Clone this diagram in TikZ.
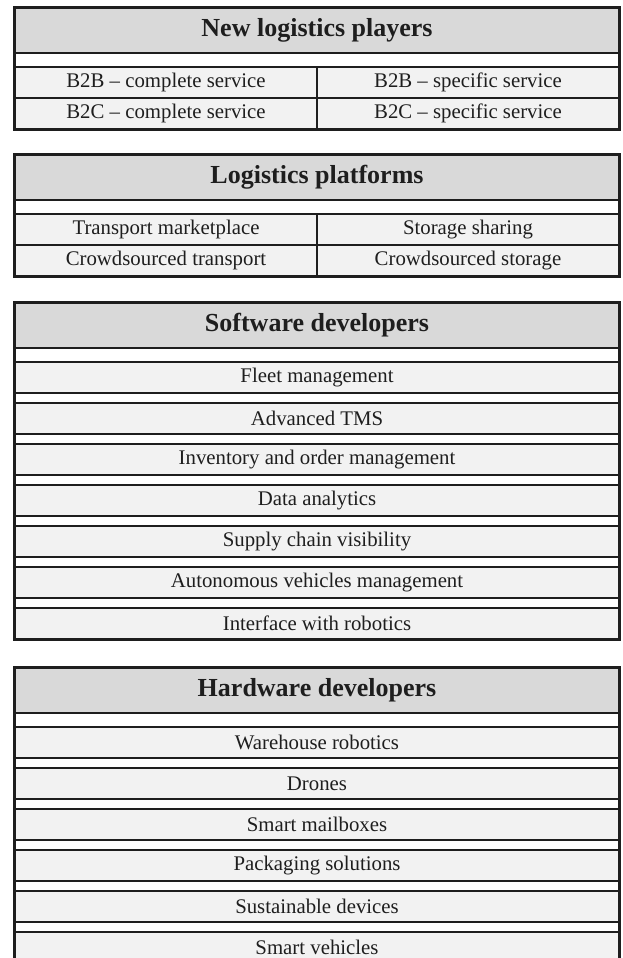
\documentclass[tikz,border=0pt]{standalone}
\usepackage{fontspec}
\setmainfont{Liberation Serif}

\definecolor{headgray}{HTML}{D9D9D9}
\definecolor{rowgray}{HTML}{F2F2F2}
\definecolor{inkgray}{HTML}{1E1E1E}

\tikzset{
	headcell/.style={draw=inkgray, line width=1.6pt, fill=headgray, minimum width=604pt, minimum height=45pt, inner sep=0pt, text=inkgray, font=\fontsize{26}{30}\selectfont\bfseries},
	itemcell/.style={draw=inkgray, line width=1.6pt, fill=rowgray, minimum width=604pt, minimum height=31pt, inner sep=0pt, text=inkgray, font=\fontsize{20.8}{24}\selectfont},
	halfcell/.style={itemcell, minimum width=302pt},
	boxframe/.style={draw=inkgray, line width=3pt}
}

\begin{document}
\begin{tikzpicture}[x=1pt,y=-1pt]
\useasboundingbox (0,0) rectangle (622,958);

\node (nlp) at (317,30.5) [headcell] {New logistics players};
\node (b2bc) at (166,82.5) [halfcell] {B2B -- complete service};
\node (b2bs) at (468,82.5) [halfcell] {B2B -- specific service};
\node (b2cc) at (166,113.5) [halfcell] {B2C -- complete service};
\node (b2cs) at (468,113.5) [halfcell] {B2C -- specific service};

\node (lp) at (317,177.5) [headcell] {Logistics platforms};
\node (tm) at (166,229.5) [halfcell] {Transport marketplace};
\node (ss) at (468,229.5) [halfcell] {Storage sharing};
\node (ct) at (166,260.5) [halfcell] {Crowdsourced transport};
\node (cs) at (468,260.5) [halfcell] {Crowdsourced storage};

\node (sd) at (317,325.5) [headcell] {Software developers};
\node (fleet) at (317,377.5) [itemcell] {Fleet management};
\node (tms) at (317,418.5) [itemcell] {Advanced TMS};
\node (inv) at (317,459.5) [itemcell] {Inventory and order management};
\node (data) at (317,500.5) [itemcell] {Data analytics};
\node (scv) at (317,541.5) [itemcell] {Supply chain visibility};
\node (avm) at (317,582.5) [itemcell] {Autonomous vehicles management};
\node (robo) at (317,623.5) [itemcell] {Interface with robotics};

\node (hd) at (317,690.5) [headcell] {Hardware developers};
\node (wr) at (317,742.5) [itemcell] {Warehouse robotics};
\node (drones) at (317,783.5) [itemcell] {Drones};
\node (mail) at (317,824.5) [itemcell] {Smart mailboxes};
\node (pack) at (317,865.5) [itemcell] {Packaging solutions};
\node (sust) at (317,906.5) [itemcell] {Sustainable devices};
\node (veh) at (317,947.5) [itemcell] {Smart vehicles};

% outer borders of the four tables
\draw [boxframe] (nlp.north west) rectangle (b2cs.south east);
\draw [boxframe] (lp.north west) rectangle (cs.south east);
\draw [boxframe] (sd.north west) rectangle (robo.south east);
\draw [boxframe] (hd.north west) rectangle (veh.south east);

\end{tikzpicture}
\end{document}
